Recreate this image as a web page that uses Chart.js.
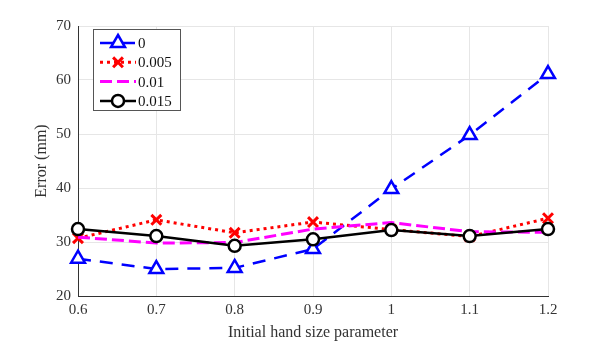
<!DOCTYPE html>
<html>
<head>
<meta charset="utf-8">
<script src="https://cdn.jsdelivr.net/npm/chart.js@4"></script>
<style>
  html, body { margin: 0; padding: 0; background: #fff; }
  #wrap { width: 606px; height: 346px; }
</style>
</head>
<body>
<div id="wrap"><canvas id="errorChart"></canvas></div>
<script>
// values
const handSize = [0.6, 0.7, 0.8, 0.9, 1.0, 1.1, 1.2];
const err0     = [26.9, 25.0, 25.2, 28.7, 39.8, 49.8, 61.1];
const err005   = [30.7, 34.1, 31.7, 33.7, 32.3, 31.0, 34.4];
const err01    = [30.9, 29.8, 29.9, 32.4, 33.6, 31.9, 31.8];
const err015   = [32.4, 31.1, 29.3, 30.5, 32.2, 31.1, 32.4];
const seriesNames = ['0', '0.005', '0.01', '0.015'];
const yTicks = [20, 30, 40, 50, 60, 70];

const serif = "'Liberation Serif', 'Times New Roman', serif";

function pts(ys) {
    return handSize.map((x, i) => ({ x: x, y: ys[i] }));
}

// legend box in the upper left of the plot, MATLAB style
const boxLegend = {
    id: 'boxLegend',
    afterDraw(chart) {
        const ctx = chart.ctx;
        const area = chart.chartArea;
        const x0 = area.left + 15, y0 = area.top + 3;
        const w = 87, h = 81;
        ctx.save();
        ctx.fillStyle = '#fff';
        ctx.fillRect(x0, y0, w, h);
        ctx.strokeStyle = '#555';
        ctx.lineWidth = 1;
        ctx.strokeRect(x0 + 0.5, y0 + 0.5, w, h);
        chart.data.datasets.forEach((ds, i) => {
            const cy = y0 + 14 + i * 19.3;
            const cx = x0 + 25;
            ctx.setLineDash(ds.borderDash || []);
            ctx.strokeStyle = ds.borderColor;
            ctx.lineWidth = ds.borderWidth;
            ctx.beginPath();
            ctx.moveTo(x0 + 7, cy);
            ctx.lineTo(x0 + 43, cy);
            ctx.stroke();
            ctx.setLineDash([]);
            if (ds.pointRadius > 0) {
                const r = ds.pointRadius;
                ctx.lineWidth = ds.pointBorderWidth;
                ctx.fillStyle = '#fff';
                ctx.beginPath();
                if (ds.pointStyle === 'triangle') {
                    ctx.moveTo(cx, cy - r);
                    ctx.lineTo(cx + r * 0.87, cy + r * 0.5);
                    ctx.lineTo(cx - r * 0.87, cy + r * 0.5);
                    ctx.closePath();
                } else if (ds.pointStyle === 'circle') {
                    ctx.arc(cx, cy, r, 0, Math.PI * 2);
                } else {
                    const d = r * 0.7;
                    ctx.moveTo(cx - d, cy - d); ctx.lineTo(cx + d, cy + d);
                    ctx.moveTo(cx + d, cy - d); ctx.lineTo(cx - d, cy + d);
                }
                if (ds.pointStyle !== 'crossRot') ctx.fill();
                ctx.stroke();
            }
            ctx.fillStyle = '#111';
            ctx.font = '15px ' + serif;
            ctx.textBaseline = 'middle';
            ctx.fillText(seriesNames[i], x0 + 45, cy + 1);
        });
        ctx.restore();
    }
};

const ctx = document.getElementById('errorChart');
new Chart(ctx, {
    type: 'line',
    data: {
        datasets: [
            {
                label: seriesNames[0],
                data: pts(err0),
                borderColor: 'rgb(0, 0, 255)',
                backgroundColor: '#fff',
                borderWidth: 2.5,
                borderDash: [13, 9],
                pointStyle: 'triangle',
                pointRadius: 8,
                pointBorderWidth: 2.5,
                clip: false,
                order: 3
            },
            {
                label: seriesNames[1],
                data: pts(err005),
                borderColor: 'rgb(255, 0, 0)',
                backgroundColor: '#fff',
                borderWidth: 3,
                borderDash: [3, 4],
                pointStyle: 'crossRot',
                pointRadius: 7,
                pointBorderWidth: 3,
                clip: false,
                order: 2
            },
            {
                label: seriesNames[2],
                data: pts(err01),
                borderColor: 'rgb(255, 0, 255)',
                backgroundColor: '#fff',
                borderWidth: 3,
                borderDash: [12, 5],
                pointRadius: 0,
                clip: false,
                order: 1
            },
            {
                label: seriesNames[3],
                data: pts(err015),
                borderColor: 'rgb(0, 0, 0)',
                backgroundColor: '#fff',
                borderWidth: 2.5,
                pointStyle: 'circle',
                pointRadius: 6,
                pointBorderWidth: 2.5,
                clip: false,
                order: 0
            }
        ]
    },
    options: {
        responsive: true,
        maintainAspectRatio: false,
        animation: false,
        layout: {
            padding: { top: 26, right: 58, left: 28, bottom: 0 }
        },
        plugins: {
            legend: { display: false },
            tooltip: { enabled: false }
        },
        scales: {
            x: {
                type: 'linear',
                min: 0.6,
                max: 1.2,
                afterFit: (s) => { s.height = 50; },
                afterBuildTicks: (s) => { s.ticks = handSize.map(v => ({ value: v })); },
                ticks: {
                    color: '#333',
                    font: { family: serif, size: 15 },
                    padding: 5,
                    callback: (v) => String(parseFloat(v.toFixed(1)))
                },
                grid: { color: '#e6e6e6', drawTicks: false },
                border: { color: '#333' },
                title: {
                    display: true,
                    text: 'Initial hand size parameter',
                    color: '#333',
                    font: { family: serif, size: 16 },
                    padding: { top: 2 }
                }
            },
            y: {
                min: 20,
                max: 70,
                afterFit: (s) => { s.width = 50; },
                afterBuildTicks: (s) => { s.ticks = yTicks.map(v => ({ value: v })); },
                ticks: {
                    color: '#333',
                    font: { family: serif, size: 15 },
                    padding: 7
                },
                grid: { color: '#e6e6e6', drawTicks: false },
                border: { color: '#333' },
                title: {
                    display: true,
                    text: 'Error (mm)',
                    color: '#333',
                    font: { family: serif, size: 16 },
                    padding: { top: 4, bottom: 0 }
                }
            }
        }
    },
    plugins: [boxLegend]
});
</script>
</body>
</html>
